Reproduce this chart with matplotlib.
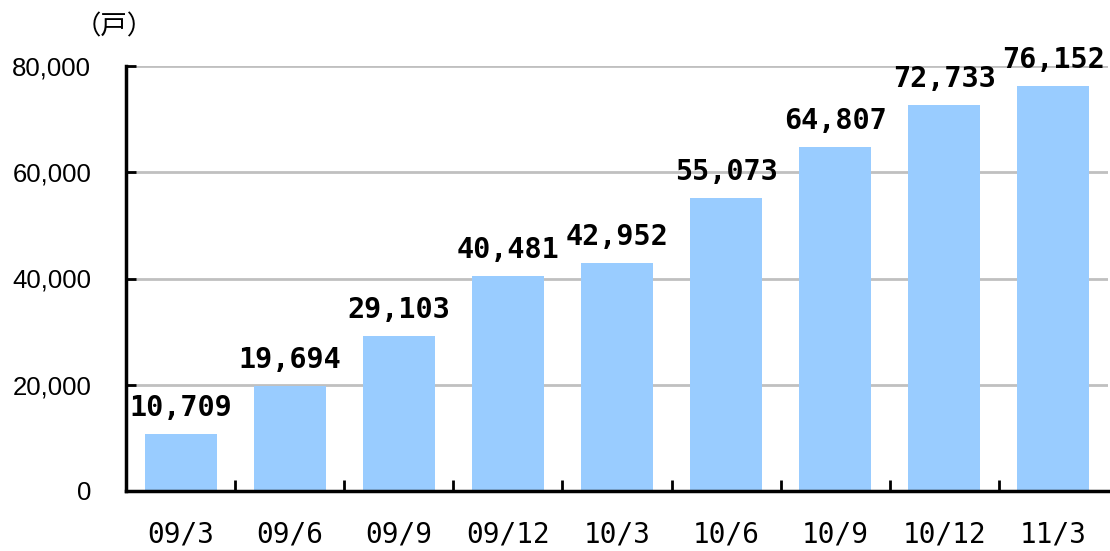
import matplotlib.pyplot as plt

# data
periods = ["09/3", "09/6", "09/9", "09/12", "10/3", "10/6", "10/9", "10/12", "11/3"]
households = [10709, 19694, 29103, 40481, 42952, 55073, 64807, 72733, 76152]
y_ticks = [0, 20000, 40000, 60000, 80000]

fig = plt.figure(figsize=(11.1, 5.51), dpi=100)
ax = fig.add_axes([126 / 1110, 1 - 491 / 551, (1108 - 126) / 1110, (491 - 66) / 551])

x = range(len(periods))
ax.bar(x, households, width=0.66, color="#99ccff", zorder=2)

for xi, v in zip(x, households):
    ax.annotate(f"{v:,}", (xi, v), xytext=(0, 13), textcoords="offset points",
                ha="center", va="baseline", fontsize=20.5, fontweight="bold",
                family="DejaVu Sans Mono", zorder=3)

ax.set_xlim(-0.5, len(periods) - 0.5)
ax.set_ylim(0, 80000)
ax.set_yticks(y_ticks)
ax.set_yticklabels([f"{t:,}" for t in y_ticks], family="Liberation Sans", fontsize=18.5)
ax.yaxis.grid(True, color="#c0c0c0", linewidth=2, zorder=0)
ax.tick_params(axis="y", direction="in", length=7, width=2, pad=25)

# category boundaries as ticks, labels in between
ax.set_xticks([i + 0.5 for i in range(len(periods) - 1)])
ax.set_xticklabels([])
ax.set_xticks(list(x), minor=True)
ax.set_xticklabels(periods, minor=True, family="DejaVu Sans Mono", fontsize=20)
ax.tick_params(axis="x", which="major", direction="in", length=8, width=2)
ax.tick_params(axis="x", which="minor", length=0, pad=21)

for s in ["top", "right"]:
    ax.spines[s].set_visible(False)
ax.spines["left"].set_linewidth(2.5)
ax.spines["bottom"].set_linewidth(2.5)
ax.spines["left"].set_zorder(4)
ax.spines["bottom"].set_zorder(4)

fig.text(114 / 1110, 1 - 27 / 551, "（戸）", family="Noto Sans CJK JP", fontsize=19,
         va="center", ha="center")

fig.savefig("out.png", dpi=100)
